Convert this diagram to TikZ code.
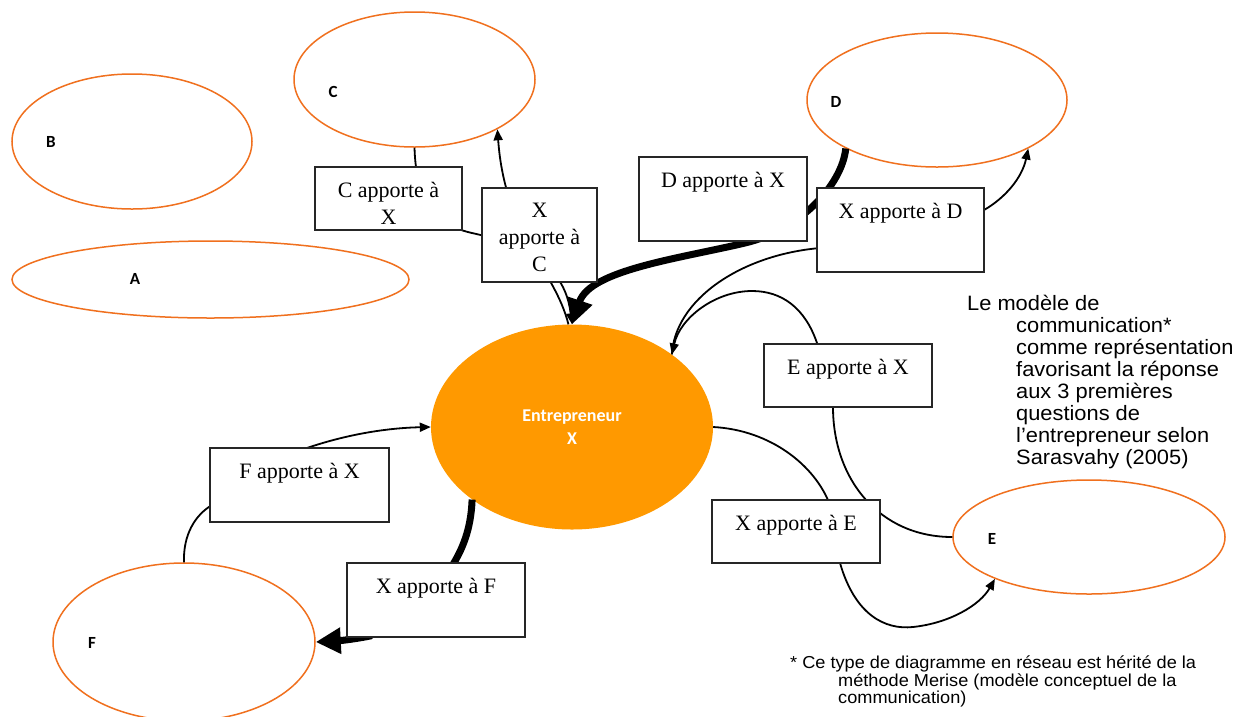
\documentclass[tikz,border=0pt]{standalone}
\usepackage{fontspec}
\setmainfont{Liberation Serif}
\newfontfamily\notefont[FakeStretch=1.05]{Liberation Sans}
\newfontfamily\carlito{Carlito}
\usetikzlibrary{shapes.geometric,arrows.meta}
\definecolor{ellorange}{RGB}{240,112,30}
\definecolor{xorange}{RGB}{255,153,0}
\tikzset{
  ell/.style={draw=ellorange, line width=1.5pt, ellipse, inner sep=0pt},
  boxst/.style={draw=black!85, fill=white, line width=1.3pt, rectangle, inner sep=0pt},
  boxtxt/.style={font=\fontsize{22}{27}\selectfont, align=center, inner sep=0pt, anchor=north, yshift=-15.5pt},
  lett/.style={font=\carlito\bfseries\fontsize{17}{17}\selectfont, inner sep=0pt},
  conn/.style={line width=1.8pt, -{Triangle[length=11pt,width=9pt]}},
  heavy/.style={line width=7pt, -{Triangle[length=25pt,width=25pt]}},
  note/.style={font=\notefont\fontsize{20.8}{22}\selectfont, align=left, inner sep=0pt, anchor=north west},
  foot/.style={font=\notefont\fontsize{17.3}{16}\selectfont, align=left, inner sep=0pt, anchor=north west},
}
\begin{document}
\begin{tikzpicture}[x=1pt,y=-1pt]
\clip (0,0) rectangle (1247,716);
\fill[white] (0,0) rectangle (1247,716);

% ellipses
\node[ell, minimum width=241pt, minimum height=135pt] (C) at (414.5,79.5) {};
\node[ell, minimum width=240pt, minimum height=135pt] (B) at (132,141.5) {};
\node[ell, minimum width=397pt, minimum height=77pt] (A) at (210.5,279.5) {};
\node[ell, minimum width=260pt, minimum height=134pt] (D) at (937,100) {};
\node[ell, minimum width=272pt, minimum height=114pt] (E) at (1089,537) {};
\node[ell, minimum width=262pt, minimum height=158pt] (F) at (184,642) {};
\node[ellipse, fill=xorange, inner sep=0pt, minimum width=282pt, minimum height=205pt,
      text=white, align=center, font=\carlito\bfseries\fontsize{18}{23}\selectfont] (X) at (572,427) {Entrepreneur\\X};

% letters
\node[lett] (lC) at (333,92) {C};
\node[lett] (lB) at (51,142) {B};
\node[lett] (lA) at (135,279) {A};
\node[lett] (lD) at (836,102) {D};
\node[lett] (lE) at (992,539) {E};
\node[lett] (lF) at (92,643) {F};

% connectors
\draw[conn] (C.south) .. controls (416,205) and (440,226) .. (472,233) .. controls (540,248) and (566,275) .. (X.north);
\draw[conn] (X.92) .. controls (555,270) and (505,235) .. (C.-31);
\draw[heavy] (D.208) .. controls (842,185) and (800,230) .. (745,243) .. controls (679,258.6) and (590,270) .. (X.north);
\draw[conn] (X.36) .. controls (675,300) and (740,255) .. (820,248) -- (984,210) .. controls (1005,198) and (1022,178) .. (D.-28);
\draw[conn] (E.west) .. controls (880,537) and (833,480) .. (833,407) -- (817,343) .. controls (805,308) and (782,291) .. (752,291) .. controls (715,291) and (680,318) .. (X.36);
\draw[conn] (X.east) .. controls (770,430) and (815,465) .. (830,505) -- (840,563) .. controls (855,615) and (885,630) .. (913,627) .. controls (950,623) and (980,605) .. (E.204);
\draw[conn] (F.north) .. controls (183,535) and (195,515) .. (212,505) -- (307,448) .. controls (345,435) and (385,428) .. (X.west);
\draw[heavy] (X.216) .. controls (471,530) and (462,550) .. (452,566) -- (370,636) .. controls (350,640) and (335,641) .. (F.east);

% boxes
\node[boxst, minimum width=147pt, minimum height=63pt, label={[boxtxt]north:{C apporte à\\X}}] (cax) at (388.5,198.5) {};
\node[boxst, minimum width=115pt, minimum height=94pt, label={[boxtxt]north:{X\\apporte à\\C}}] (xac) at (539.5,235) {};
\node[boxst, minimum width=168pt, minimum height=84pt, label={[boxtxt]north:{D apporte à X}}] (dax) at (723,199) {};
\node[boxst, minimum width=167pt, minimum height=84pt, label={[boxtxt]north:{X apporte à D}}] (xad) at (900.5,230) {};
\node[boxst, minimum width=168pt, minimum height=63pt, label={[boxtxt]north:{E apporte à X}}] (eax) at (848,375.5) {};
\node[boxst, minimum width=168pt, minimum height=63pt, label={[boxtxt]north:{X apporte à E}}] (xae) at (796,531.5) {};
\node[boxst, minimum width=179pt, minimum height=74pt, label={[boxtxt]north:{F apporte à X}}] (fax) at (299.5,485) {};
\node[boxst, minimum width=178pt, minimum height=74pt, label={[boxtxt]north:{X apporte à F}}] (xaf) at (436,600) {};

% texts
\node[note] (model) at (967,295) {Le modèle de\\
\hspace*{49pt}communication*\\
\hspace*{49pt}comme représentation\\
\hspace*{49pt}favorisant la réponse\\
\hspace*{49pt}aux 3 premières\\
\hspace*{49pt}questions de\\
\hspace*{49pt}l’entrepreneur selon\\
\hspace*{49pt}Sarasvahy (2005)};
\node[foot] (footnote) at (790,656) {* Ce type de diagramme en réseau est hérité de la\\
\hspace*{48pt}méthode Merise (modèle conceptuel de la\\
\hspace*{48pt}communication)};
\end{tikzpicture}
\end{document}
